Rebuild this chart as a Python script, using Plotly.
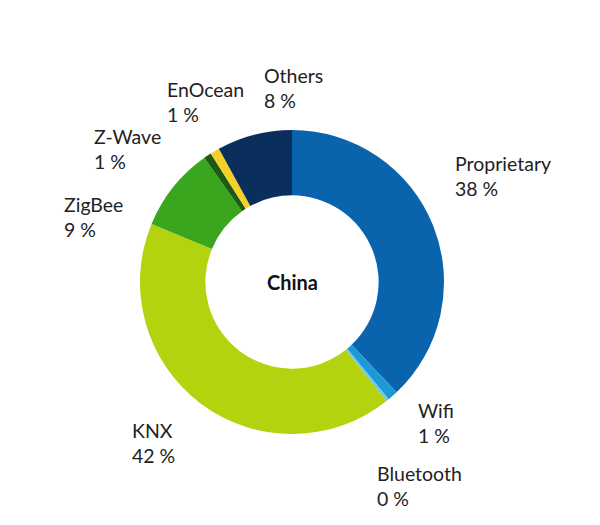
import plotly.graph_objects as go

labels = ['Proprietary', 'Wifi', 'Bluetooth', 'KNX', 'ZigBee', 'Z-Wave', 'EnOcean', 'Others']
values = [38, 1.1, 0.3, 42, 9, 0.8, 1, 8]
pct_text = ['38 %', '1 %', '0 %', '42 %', '9 %', '1 %', '1 %', '8 %']
colors = ['#0a64ad', '#1b9ad6', '#6cc6ee', '#b4d30f', '#3aa61e', '#1d5a12', '#f4d028', '#0b2f5c']

# page has an 8px body margin, so figure coords = screen coords - 8
OFF = 8

# where each label sits (screen px, left edge / middle of the two lines)
label_pos = {
    'Proprietary': (453, 176),
    'Wifi': (416, 423),
    'Bluetooth': (375, 486),
    'KNX': (130, 443),
    'ZigBee': (62, 217),
    'Z-Wave': (92, 149),
    'EnOcean': (165, 102),
    'Others': (262, 88),
}

W, H = 600, 525
cx, cy, r = 292 - OFF, 282 - OFF, 152

fig = go.Figure()
fig.add_trace(go.Pie(
    labels=labels,
    values=values,
    sort=False,
    direction='clockwise',
    rotation=0,
    hole=0.57,
    marker=dict(colors=colors, line=dict(width=0)),
    textinfo='none',
    hoverinfo='skip',
    showlegend=False,
    domain=dict(x=[(cx - r) / W, (cx + r) / W], y=[1 - (cy + r) / H, 1 - (cy - r) / H]),
))

font = dict(family='Lato, sans-serif', size=19.5, color='#222222')
for name, pct in zip(labels, pct_text):
    px, py = label_pos[name]
    fig.add_annotation(
        x=(px - OFF) / W, y=1 - (py - OFF) / H, xref='paper', yref='paper',
        text=f'{name}<br>{pct}', showarrow=False,
        xanchor='left', yanchor='middle', align='left', font=font,
    )

fig.add_annotation(
    x=cx / W, y=1 - cy / H, xref='paper', yref='paper',
    text='<b>China</b>', showarrow=False, font=dict(family='Lato, sans-serif', size=20, color='#111111'),
)

fig.update_layout(
    width=W, height=H, autosize=False,
    margin=dict(l=0, r=0, t=0, b=0),
    paper_bgcolor='white', plot_bgcolor='white',
)

fig.write_html('out.html')
